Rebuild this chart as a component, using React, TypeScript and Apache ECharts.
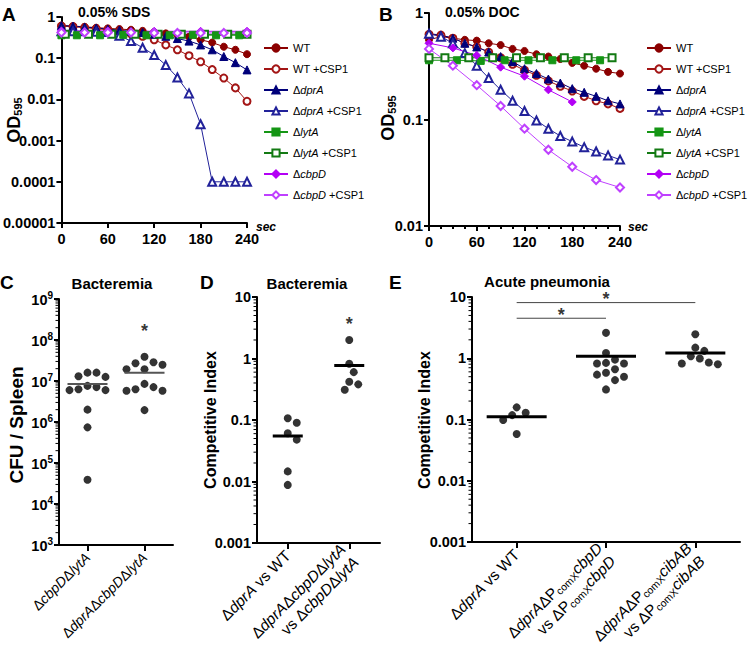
import React, { useEffect, useRef } from 'react';
import * as echarts from 'echarts';

const FONT = 'Arial, "Liberation Sans", Helvetica, sans-serif';

// ---------- Panel A : 0.05% SDS (OD595 vs sec) ----------
const T15 = [0, 15, 30, 45, 60, 75, 90, 105, 120, 135, 150, 165, 180, 195, 210, 225, 240];
const T30 = [0, 30, 60, 90, 120, 150, 180, 210, 240];
const A_WT = [0.62, 0.6, 0.58, 0.55, 0.53, 0.51, 0.49, 0.46, 0.43, 0.4, 0.37, 0.33, 0.28, 0.24, 0.19, 0.16, 0.125];
const A_WT_CSP = [0.6, 0.58, 0.55, 0.52, 0.49, 0.45, 0.39, 0.34, 0.28, 0.21, 0.16, 0.115, 0.082, 0.053, 0.033, 0.019, 0.009];
const A_DPRA = [0.62, 0.6, 0.57, 0.54, 0.51, 0.48, 0.45, 0.42, 0.38, 0.34, 0.3, 0.26, 0.21, 0.16, 0.11, 0.078, 0.052];
const A_DPRA_CSP = [0.45, 0.45, 0.45, 0.44, 0.43, 0.35, 0.26, 0.18, 0.12, 0.068, 0.034, 0.014, 0.0025, 0.0001, 0.0001, 0.0001, 0.0001];
const A_LYTA_T = [0, 20, 50, 80, 110, 140, 170, 200, 230];
const A_LYTA = [0.36, 0.36, 0.36, 0.37, 0.36, 0.36, 0.37, 0.36, 0.36];
const A_LYTA_CSP_T = [5, 35, 65, 95, 125, 155, 185, 215, 240];
const A_LYTA_CSP = [0.38, 0.38, 0.38, 0.38, 0.38, 0.38, 0.38, 0.38, 0.38];
const A_CBPD_T = [0, 60, 120, 180, 240];
const A_CBPD = [0.46, 0.46, 0.45, 0.45, 0.45];
const A_CBPD_CSP = [0.42, 0.42, 0.42, 0.42, 0.41, 0.41, 0.41, 0.41, 0.41];

// ---------- Panel B : 0.05% DOC ----------
const B_WT = [0.56, 0.6, 0.58, 0.56, 0.55, 0.52, 0.5, 0.46, 0.44, 0.41, 0.39, 0.37, 0.34, 0.32, 0.3, 0.28, 0.27];
const B_WT_CSP = [0.63, 0.62, 0.58, 0.52, 0.48, 0.43, 0.38, 0.33, 0.29, 0.26, 0.23, 0.205, 0.185, 0.165, 0.15, 0.14, 0.127];
const B_DPRA = [0.64, 0.62, 0.58, 0.52, 0.48, 0.43, 0.39, 0.35, 0.3, 0.27, 0.24, 0.22, 0.195, 0.18, 0.165, 0.15, 0.14];
const B_DPRA_CSP = [0.64, 0.6, 0.52, 0.42, 0.32, 0.245, 0.19, 0.15, 0.12, 0.098, 0.082, 0.07, 0.062, 0.055, 0.05, 0.046, 0.042];
const B_LYTA_T = [0, 35, 65, 95, 125, 155, 185, 215];
const B_LYTA = [0.36, 0.36, 0.355, 0.36, 0.36, 0.36, 0.36, 0.36];
const B_LYTA_CSP_T = [0, 20, 50, 80, 110, 140, 170, 200, 230];
const B_LYTA_CSP = [0.38, 0.38, 0.38, 0.38, 0.38, 0.38, 0.38, 0.38, 0.38];
const B_CBPD_T = [0, 30, 60, 90, 120, 150, 180];
const B_CBPD = [0.52, 0.47, 0.4, 0.31, 0.255, 0.19, 0.146];
const B_CBPD_CSP = [0.46, 0.32, 0.21, 0.134, 0.082, 0.052, 0.036, 0.027, 0.023];

// ---------- Panel C : Bacteremia CFU / Spleen ----------
const C_CATS = ['Δ{i|cbpD}Δ{i|lytA}', 'Δ{i|dprA}Δ{i|cbpD}Δ{i|lytA}'];
const C_G1 = [1.6e7, 1.26e7, 1.3e7, 1.6e7, 7.1e6, 6.0e6, 6.0e6, 6.3e6, 7.6e6, 2.0e6, 7.4e5, 3.9e4];
const C_G2 = [2.86e7, 2.5e7, 3.9e7, 1.93e7, 1.93e7, 2.7e7, 7.1e6, 5.8e6, 5.8e6, 6.3e6, 8.5e6, 1.95e6];
const C_MEAN = [8.5e6, 1.6e7];
const C_STAR = [[1, 1.66e8]];

// ---------- Panel D : Bacteremia competitive index ----------
const D_CATS = ['Δ{i|dprA} vs WT', 'Δ{i|dprA}Δ{i|cbpD}Δ{i|lytA}\nvs Δ{i|cbpD}Δ{i|lytA}'];
const D_G1 = [0.107, 0.09, 0.061, 0.048, 0.0146, 0.0088];
const D_G2 = [2.0, 0.82, 0.6, 0.42, 0.38, 0.31];
const D_MEAN = [0.055, 0.77];
const D_STAR = [[1, 3.6]];

// ---------- Panel E : Acute pneumonia competitive index ----------
const E_CATS = [
  'Δ{i|dprA} vs WT',
  'Δ{i|dprA}ΔP{s|comX}{i|cbpD}\nvs ΔP{s|comX}{i|cbpD}',
  'Δ{i|dprA}ΔP{s|comX}{i|cibAB}\nvs ΔP{s|comX}{i|cibAB}',
];
const E_G1 = [0.118, 0.158, 0.129, 0.098, 0.058];
const E_G2 = [2.6, 1.22, 0.84, 0.82, 0.82, 0.95, 0.66, 0.58, 0.54, 0.5, 0.44, 0.31];
const E_G3 = [2.46, 1.49, 1.32, 1.08, 0.85, 0.8, 0.82, 0.99];
const E_MEAN = [0.111, 1.08, 1.22];
const E_BAR_SHORT = [[0, 4.5], [1, 4.5]];
const E_BAR_LONG = [[0, 8.1], [2, 8.1]];
const E_STARS = [[0.5, 5.0], [1, 9.4]];

const NAMES = ['WT', 'WT +CSP1', 'ΔdprA', 'ΔdprA +CSP1', 'ΔlytA', 'ΔlytA +CSP1', 'ΔcbpD', 'ΔcbpD +CSP1'];

const STYLE: Record<string, { symbol: string; color: string; size: number }> = {
  'WT': { symbol: 'circle', color: '#8b0000', size: 7 },
  'WT +CSP1': { symbol: 'emptyCircle', color: '#a31515', size: 7 },
  'ΔdprA': { symbol: 'triangle', color: '#00007a', size: 8 },
  'ΔdprA +CSP1': { symbol: 'emptyTriangle', color: '#22229a', size: 8 },
  'ΔlytA': { symbol: 'rect', color: '#159615', size: 7 },
  'ΔlytA +CSP1': { symbol: 'emptyRect', color: '#137a13', size: 7 },
  'ΔcbpD': { symbol: 'diamond', color: '#b300f5', size: 8 },
  'ΔcbpD +CSP1': { symbol: 'emptyDiamond', color: '#bf40ff', size: 8 },
};

// layout (pixels)
const GA = { left: 59, top: 17, width: 188, height: 206 };
const GB = { left: 429, top: 13, width: 191, height: 213 };
const GC = { left: 59, top: 299, width: 114, height: 246 };
const GD = { left: 257, top: 297, width: 123, height: 246 };
const GE = { left: 472, top: 297, width: 268, height: 246 };

const EXP_LABEL: Record<number, string> = {
  1: '10', 0: '1', [-1]: '0.1', [-2]: '0.01', [-3]: '0.001', [-4]: '0.0001', [-5]: '0.00001',
};

function swarm(values: number[], pxPerDecade: number, bandPx: number, diameter: number): number[] {
  const order = values.map((_, i) => i).sort((a, b) => values[b] - values[a]);
  const placed: [number, number][] = [];
  const out = new Array(values.length).fill(0);
  const step = diameter / 2;
  for (const i of order) {
    const y = Math.log10(values[i]) * pxPerDecade;
    for (let k = 0; k < 400; k++) {
      const x = (k % 2 === 1 ? 1 : -1) * Math.ceil(k / 2) * step;
      if (placed.every(([px, py]) => (px - x) ** 2 + (py - y) ** 2 >= diameter * diameter * 0.97)) {
        placed.push([x, y]);
        out[i] = x / bandPx;
        break;
      }
    }
  }
  return out;
}

const axisLine = { show: true, onZero: false, lineStyle: { color: '#000', width: 2 } };
const axisTick = { show: true, length: 5, lineStyle: { color: '#000', width: 2 } };
const boldLabel = { color: '#000', fontFamily: FONT, fontWeight: 'bold' as const, fontSize: 14.5 };

function curve(name: string, t: number[], v: number[], xi: number, yi: number) {
  const st = STYLE[name];
  return {
    type: 'line',
    name,
    xAxisIndex: xi,
    yAxisIndex: yi,
    data: t.map((x, i) => [x, v[i]]),
    symbol: st.symbol,
    symbolSize: st.size,
    showSymbol: true,
    showAllSymbol: true,
    color: st.color,
    lineStyle: { width: 1, color: st.color },
    itemStyle: { color: st.color, borderColor: st.color, borderWidth: 1 },
    emphasis: { disabled: true },
  };
}

function logYAxis(gi: number, min: number, max: number, rich?: boolean) {
  return {
    type: 'log',
    gridIndex: gi,
    logBase: 10,
    min,
    max,
    axisLine,
    axisTick,
    splitLine: { show: false },
    axisLabel: rich
      ? {
          margin: 6,
          formatter: (v: number) => '{b|10}{s|' + Math.round(Math.log10(v)) + '}',
          rich: {
            b: { ...boldLabel, verticalAlign: 'bottom', lineHeight: 17 },
            s: { ...boldLabel, fontSize: 10, verticalAlign: 'top', lineHeight: 17 },
          },
        }
      : { ...boldLabel, margin: 6, formatter: (v: number) => EXP_LABEL[Math.round(Math.log10(v))] ?? '' },
  };
}

function catXAxis(gi: number, cats: string[], size: number) {
  return {
    type: 'category',
    gridIndex: gi,
    data: cats,
    axisLine,
    axisTick: { show: true, alignWithLabel: true, length: 6, lineStyle: { color: '#000', width: 2 } },
    axisLabel: {
      interval: 0,
      rotate: 45,
      margin: 10,
      color: '#000',
      fontFamily: FONT,
      fontSize: size,
      lineHeight: size + 3,
      rich: {
        i: { fontStyle: 'italic', fontFamily: FONT, fontSize: size, color: '#000' },
        s: { fontFamily: FONT, fontSize: size * 0.68, color: '#000', verticalAlign: 'bottom', lineHeight: size + 3 },
      },
    },
  };
}

function hiddenX(gi: number, n: number) {
  return { type: 'value', gridIndex: gi, min: -0.5, max: n - 0.5, show: false };
}

function minorTicks(xi: number, yi: number, lo: number, hi: number) {
  const data: number[][] = [];
  for (let e = lo; e < hi; e++) for (let m = 2; m <= 9; m++) data.push([0, m * Math.pow(10, e)]);
  return {
    type: 'custom',
    xAxisIndex: xi,
    yAxisIndex: yi,
    silent: true,
    clip: false,
    z: 5,
    data,
    renderItem: (params: any, api: any) => {
      const pt = api.coord([api.value(0), api.value(1)]);
      const x0 = params.coordSys.x;
      return {
        type: 'line',
        shape: { x1: x0 - 3.5, y1: pt[1], x2: x0, y2: pt[1] },
        style: { stroke: '#000', lineWidth: 1 },
      };
    },
  };
}

function dots(xi: number, yi: number, groups: number[][], pxPerDecade: number, bandPx: number) {
  const data: number[][] = [];
  groups.forEach((g, gi) => {
    const off = swarm(g, pxPerDecade, bandPx, 9);
    g.forEach((v, j) => data.push([gi + off[j], v]));
  });
  return {
    type: 'scatter',
    xAxisIndex: xi,
    yAxisIndex: yi,
    data,
    symbol: 'circle',
    symbolSize: 8,
    itemStyle: { color: '#000' },
    emphasis: { disabled: true },
    z: 3,
  };
}

function meanLines(xi: number, yi: number, means: number[], half: number, color: string, width: number) {
  return means.map((m, i) => ({
    type: 'line',
    xAxisIndex: xi,
    yAxisIndex: yi,
    data: [[i - half, m], [i + half, m]],
    symbol: 'none',
    lineStyle: { color, width },
    emphasis: { disabled: true },
    z: 4,
  }));
}

function stars(xi: number, yi: number, pts: number[][]) {
  return {
    type: 'scatter',
    xAxisIndex: xi,
    yAxisIndex: yi,
    data: pts,
    symbolSize: 2,
    itemStyle: { color: 'rgba(0,0,0,0)' },
    label: {
      show: true,
      position: 'inside',
      formatter: '*',
      color: '#000',
      fontFamily: FONT,
      fontWeight: 'bold',
      fontSize: 18,
    },
    emphasis: { disabled: true },
    z: 6,
  };
}

function sigBar(xi: number, yi: number, pts: number[][]) {
  return {
    type: 'line',
    xAxisIndex: xi,
    yAxisIndex: yi,
    data: pts,
    symbol: 'none',
    lineStyle: { color: '#444', width: 1 },
    emphasis: { disabled: true },
  };
}

function legend(left: number) {
  return {
    data: NAMES,
    left,
    top: 37,
    orient: 'vertical',
    itemWidth: 24,
    itemHeight: 9,
    itemGap: 9,
    selectedMode: false,
    textStyle: {
      color: '#000',
      fontFamily: FONT,
      fontSize: 11,
      lineHeight: 12,
      rich: { i: { fontStyle: 'italic', fontFamily: FONT, fontSize: 11, color: '#000' } },
    },
    formatter: (name: string) => name.replace(/Δ([A-Za-z]+)/g, 'Δ{i|$1}'),
  };
}

function txt(x: number, y: number, text: string, font: string, align = 'left') {
  return {
    type: 'text',
    x,
    y,
    style: { text, font, fill: '#000', align, textAlign: align, verticalAlign: 'middle', textVerticalAlign: 'middle' },
  };
}

function vTitle(x: number, y: number, text: string, size: number, rich?: any) {
  return {
    type: 'text',
    x,
    y,
    rotation: Math.PI / 2,
    style: {
      text,
      font: `bold ${size}px ${FONT}`,
      fill: '#000',
      align: 'center',
      textAlign: 'center',
      verticalAlign: 'middle',
      textVerticalAlign: 'middle',
      rich,
    },
  };
}

const odRich = {
  a: { fontFamily: FONT, fontWeight: 'bold', fontSize: 18, verticalAlign: 'bottom', lineHeight: 22 },
  b: { fontFamily: FONT, fontWeight: 'bold', fontSize: 11, verticalAlign: 'bottom', lineHeight: 18 },
};

export default function App() {
  const ref = useRef<HTMLDivElement>(null);
  useEffect(() => {
    if (!ref.current) return;
    const chart = echarts.init(ref.current, null, { renderer: 'svg' });

    const series: any[] = [
      curve('WT', T15, A_WT, 0, 0),
      curve('WT +CSP1', T15, A_WT_CSP, 0, 0),
      curve('ΔdprA', T15, A_DPRA, 0, 0),
      curve('ΔdprA +CSP1', T15, A_DPRA_CSP, 0, 0),
      curve('ΔlytA', A_LYTA_T, A_LYTA, 0, 0),
      curve('ΔlytA +CSP1', A_LYTA_CSP_T, A_LYTA_CSP, 0, 0),
      curve('ΔcbpD', A_CBPD_T, A_CBPD, 0, 0),
      curve('ΔcbpD +CSP1', T30, A_CBPD_CSP, 0, 0),

      curve('WT', T15, B_WT, 1, 1),
      curve('WT +CSP1', T15, B_WT_CSP, 1, 1),
      curve('ΔdprA', T15, B_DPRA, 1, 1),
      curve('ΔdprA +CSP1', T15, B_DPRA_CSP, 1, 1),
      curve('ΔlytA', B_LYTA_T, B_LYTA, 1, 1),
      curve('ΔlytA +CSP1', B_LYTA_CSP_T, B_LYTA_CSP, 1, 1),
      curve('ΔcbpD', B_CBPD_T, B_CBPD, 1, 1),
      curve('ΔcbpD +CSP1', T30, B_CBPD_CSP, 1, 1),

      // C
      minorTicks(3, 2, 3, 9),
      dots(3, 2, [C_G1, C_G2], GC.height / 6, GC.width / 2),
      ...meanLines(3, 2, C_MEAN, 20 / (GC.width / 2), '#555', 2),
      stars(3, 2, C_STAR),

      // D
      minorTicks(5, 3, -3, 1),
      dots(5, 3, [D_G1, D_G2], GD.height / 4, GD.width / 2),
      ...meanLines(5, 3, D_MEAN, 15 / (GD.width / 2), '#000', 3),
      stars(5, 3, D_STAR),

      // E
      minorTicks(7, 4, -3, 1),
      dots(7, 4, [E_G1, E_G2, E_G3], GE.height / 4, GE.width / 3),
      ...meanLines(7, 4, E_MEAN, 30 / (GE.width / 3), '#000', 3),
      sigBar(7, 4, E_BAR_SHORT),
      sigBar(7, 4, E_BAR_LONG),
      stars(7, 4, E_STARS),
    ];

    const option: any = {
      animation: false,
      backgroundColor: '#fff',
      grid: [GA, GB, GC, GD, GE].map((g) => ({ ...g, containLabel: false })),
      xAxis: [
        {
          type: 'value', gridIndex: 0, min: 0, max: 240, interval: 60,
          axisLine, axisTick, splitLine: { show: false },
          axisLabel: { ...boldLabel, margin: 8 },
        },
        {
          type: 'value', gridIndex: 1, min: 0, max: 240, interval: 60,
          axisLine, axisTick, splitLine: { show: false },
          minorTick: { show: true, splitNumber: 4, length: 3, lineStyle: { color: '#000', width: 2 } },
          axisLabel: { ...boldLabel, margin: 8 },
        },
        catXAxis(2, C_CATS, 14),
        hiddenX(2, 2),
        catXAxis(3, D_CATS, 15.5),
        hiddenX(3, 2),
        catXAxis(4, E_CATS, 15.5),
        hiddenX(4, 3),
      ],
      yAxis: [
        logYAxis(0, 1e-5, 1),
        logYAxis(1, 0.01, 1),
        logYAxis(2, 1e3, 1e9, true),
        logYAxis(3, 0.001, 10),
        logYAxis(4, 0.001, 10),
      ],
      legend: [legend(258), legend(641)],
      series,
      graphic: [
        txt(2, 14, 'A', `bold 19px ${FONT}`),
        txt(78, 12, '0.05% SDS', `bold 14px ${FONT}`),
        txt(379, 14, 'B', `bold 19px ${FONT}`),
        txt(445, 12, '0.05% DOC', `bold 14px ${FONT}`),
        txt(0, 282, 'C', `bold 19px ${FONT}`),
        txt(112, 283, 'Bacteremia', `bold 15px ${FONT}`, 'center'),
        txt(200, 282, 'D', `bold 19px ${FONT}`),
        txt(307, 283, 'Bacteremia', `bold 15px ${FONT}`, 'center'),
        txt(389, 282, 'E', `bold 19px ${FONT}`),
        txt(547, 281, 'Acute pneumonia', `bold 15px ${FONT}`, 'center'),
        txt(256, 227, 'sec', `italic bold 12px ${FONT}`),
        txt(628, 227, 'sec', `italic bold 12px ${FONT}`),
        vTitle(12, 120, '{a|OD}{b|595}', 18, odRich),
        vTitle(386, 118, '{a|OD}{b|595}', 18, odRich),
        vTitle(16, 425, 'CFU / Spleen', 19),
        vTitle(210, 420, 'Competitive Index', 16),
        vTitle(424, 420, 'Competitive Index', 16),
      ],
    };
    chart.setOption(option);
    return () => chart.dispose();
  }, []);

  return (
    <div
      ref={ref}
      style={{ position: 'fixed', left: 0, top: 0, width: 750, height: 660, background: '#fff' }}
    />
  );
}
